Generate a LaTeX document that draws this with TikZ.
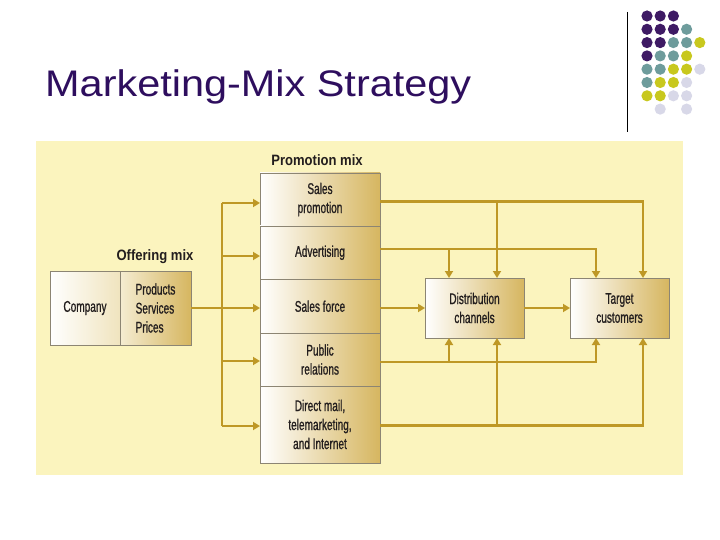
\documentclass[tikz,border=0pt]{standalone}
\usepackage{fontspec}
\usetikzlibrary{arrows.meta}
\newfontfamily\condf[FakeStretch=0.65,FakeBold=0.9]{Liberation Sans}
\newfontfamily\condb[FakeStretch=0.87]{Liberation Sans}
\newfontfamily\titlefont[FakeStretch=1.12]{Liberation Sans}
\definecolor{titlepurple}{RGB}{46,14,94}
\definecolor{panelyellow}{RGB}{251,244,190}
\definecolor{arrowgold}{RGB}{190,152,38}
\definecolor{boxtan}{RGB}{214,182,96}
\definecolor{boxcream}{RGB}{240,228,190}
\definecolor{boxedge}{RGB}{140,133,115}
\definecolor{dotP}{RGB}{62,26,100}
\definecolor{dotT}{RGB}{110,156,156}
\definecolor{dotY}{RGB}{200,200,30}
\definecolor{dotL}{RGB}{216,216,232}
\definecolor{txt}{RGB}{35,30,30}
\tikzset{
  cell/.style={draw=boxedge, line width=0.8pt, inner sep=0pt, outer sep=0pt,
    left color=white, right color=boxtan, align=center, text=txt,
    font=\condf\fontsize{15.5}{19}\selectfont},
  lbl/.style={text=txt, font=\condb\bfseries\fontsize{15}{18}\selectfont},
  arr/.style={draw=arrowgold, line width=2.7pt, -{Triangle[length=7pt,width=8pt]}},
  ln/.style={draw=arrowgold, line width=2.7pt}
}
\begin{document}
\begin{tikzpicture}[x=1pt,y=-1pt]
\useasboundingbox (0,0) rectangle (720,540);
% title
\node[anchor=base west, inner sep=0pt, text=titlepurple, font=\titlefont\fontsize{37}{40}\selectfont] (title) at (45,97) {Marketing-Mix Strategy};
% separator line
\draw[line width=1pt, black] (627,12) -- (627,132);
% dots
\foreach \c/\r/\col in {0/0/dotP,1/0/dotP,2/0/dotP,
  0/1/dotP,1/1/dotP,2/1/dotP,3/1/dotT,
  0/2/dotP,1/2/dotP,2/2/dotT,3/2/dotT,4/2/dotY,
  0/3/dotP,1/3/dotT,2/3/dotT,3/3/dotY,
  0/4/dotT,1/4/dotT,2/4/dotY,3/4/dotY,4/4/dotL,
  0/5/dotT,1/5/dotY,2/5/dotY,3/5/dotL,
  0/6/dotY,1/6/dotY,2/6/dotL,3/6/dotL,
  1/7/dotL,3/7/dotL}
  \fill[\col] ({647+13.2*\c},{16+13.3*\r}) circle (5.6);
% panel
\fill[panelyellow] (36,141) rectangle (683,475);
% offering box
\node[cell, minimum width=70pt, minimum height=74pt, right color=boxcream] (company) at (85,308) {Company};
\node[cell, minimum width=71pt, minimum height=74pt, left color=boxcream!70!white, align=left] (offering) at (155.5,308) {Products\\Services\\Prices};
\node[lbl] (offlbl) at (155,257) {Offering mix};
% promotion mix
\node[cell, minimum width=120pt, minimum height=53pt] (sp) at (320,199.5) {Sales\\promotion};
\node[cell, minimum width=120pt, minimum height=53.5pt] (adv) at (320,252.75) {Advertising};
\node[cell, minimum width=120pt, minimum height=53.5pt] (sf) at (320,306.25) {Sales force};
\node[cell, minimum width=120pt, minimum height=53pt] (pr) at (320,359.5) {Public\\relations};
\node[cell, minimum width=120pt, minimum height=77pt] (dm) at (320,424.5) {Direct mail,\\telemarketing,\\and Internet};
\node[lbl] (promlbl) at (317,160) {Promotion mix};
% distribution and target
\node[cell, minimum width=99pt, minimum height=60pt] (dist) at (474.5,308) {Distribution\\channels};
\node[cell, minimum width=99pt, minimum height=60pt] (target) at (619.5,308) {Target\\customers};
% left bus
\coordinate (b1) at (222,203);
\coordinate (b2) at (222,256);
\coordinate (b4) at (222,361);
\coordinate (b5) at (222,426);
\draw[ln] (b1) -- (b5);
\draw[arr] (b1) -- (b1 -| sp.west);
\draw[arr] (b2) -- (b2 -| adv.west);
\draw[arr] (offering.east) -- (offering.east -| sf.west);
\draw[arr] (b4) -- (b4 -| pr.west);
\draw[arr] (b5) -- (b5 -| dm.west);
% right side
\coordinate (r1) at (643,201.5);
\coordinate (r1b) at (497,201.5);
\coordinate (r2) at (596,249);
\coordinate (r2b) at (449,249);
\coordinate (r3) at (596,362);
\coordinate (r3b) at (449,362);
\coordinate (r4) at (643,425.5);
\coordinate (r4b) at (497,425.5);
\draw[arr] (sp.east |- r1) -- (r1) -- (r1 |- target.north);
\draw[arr] (r1b) -- (r1b |- dist.north);
\draw[arr] (adv.east |- r2) -- (r2) -- (r2 |- target.north);
\draw[arr] (r2b) -- (r2b |- dist.north);
\draw[arr] (sf.east |- dist.west) -- (dist.west);
\draw[arr] (dist.east) -- (target.west);
\draw[arr] (pr.east |- r3) -- (r3) -- (r3 |- target.south);
\draw[arr] (r3b) -- (r3b |- dist.south);
\draw[arr] (dm.east |- r4) -- (r4) -- (r4 |- target.south);
\draw[arr] (r4b) -- (r4b |- dist.south);
\end{tikzpicture}
\end{document}
